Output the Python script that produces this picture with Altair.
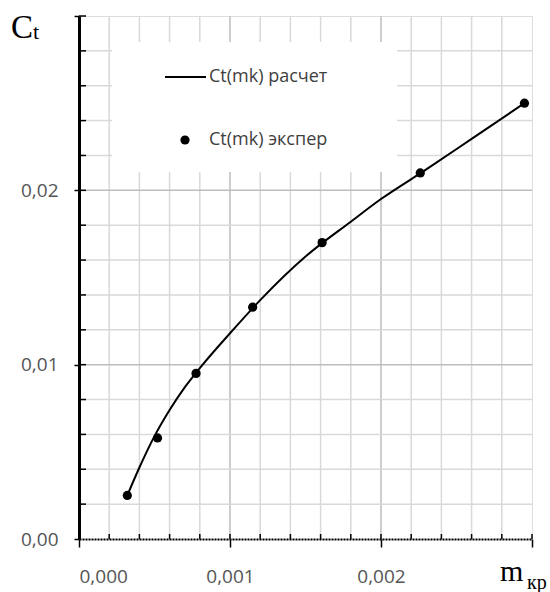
import altair as alt
import pandas as pd

# experimental points
mk_exp = [0.00032, 0.00052, 0.000775, 0.00115, 0.00161, 0.00226, 0.00295]
ct_exp = [0.0025, 0.0058, 0.0095, 0.0133, 0.0170, 0.0210, 0.0250]

# calculated curve
mk_calc = [0.00032, 0.0004, 0.0005, 0.0006, 0.0007, 0.0008, 0.001, 0.0012,
           0.0015, 0.0018, 0.002, 0.0023, 0.0026, 0.00295]
ct_calc = [0.0025, 0.0041, 0.0059, 0.0074, 0.0087, 0.0098, 0.0118, 0.0137,
           0.0162, 0.0182, 0.0195, 0.0212, 0.02295, 0.0250]

# grid / tick positions
x_minor = [0.0002, 0.0004, 0.0006, 0.0008, 0.0012, 0.0014, 0.0016, 0.0018,
           0.0022, 0.0024, 0.0026, 0.0028]
x_major = [0.001, 0.002]
x_ticks_in = [0.0002, 0.0004, 0.0006, 0.0008, 0.001, 0.0012, 0.0014, 0.0016,
              0.0018, 0.002, 0.0022, 0.0024, 0.0026, 0.0028, 0.003]
y_minor = [0.002, 0.004, 0.006, 0.008, 0.012, 0.014, 0.016, 0.018,
           0.022, 0.024, 0.026, 0.028]
y_major = [0.01, 0.02]
y_ticks_in = [0.002, 0.004, 0.006, 0.008, 0.01, 0.012, 0.014, 0.016, 0.018,
              0.02, 0.022, 0.024, 0.026, 0.028, 0.03]

x_labels = [0.0, 0.001, 0.002, 0.003]
y_labels = [0.0, 0.01, 0.02, 0.03]

legend_names = ["Ct(mk) расчет", "Ct(mk) экспер"]

W, H = 453, 523

xscale = alt.Scale(domain=[0, 0.003], nice=False, zero=False)
yscale = alt.Scale(domain=[0, 0.03], nice=False, zero=False)

xaxis = alt.Axis(
    values=x_labels, grid=False, title="",
    labelExpr="datum.value > 0.0029 ? '' : replace(format(datum.value, '.3f'), '.', ',')",
    tickSize=8, tickColor="#000", tickWidth=1.5,
    domainColor="#000", domainWidth=2, domainDash=[2, 1],
    labelFont="Open Sans", labelFontSize=19, labelColor="#555555",
    labelPadding=20, zindex=1,
)
yaxis = alt.Axis(
    values=y_labels, grid=False, title="",
    labelExpr="datum.value > 0.029 ? '' : replace(format(datum.value, '.2f'), '.', ',')",
    tickSize=5, tickColor="#000", tickWidth=1.5,
    domainColor="#000", domainWidth=3,
    labelFont="Open Sans", labelFontSize=19, labelColor="#555555",
    labelPadding=16, zindex=1,
)

X = alt.X("x:Q", scale=xscale, axis=xaxis)
Y = alt.Y("y:Q", scale=yscale, axis=yaxis)

one = pd.DataFrame({"a": [0]})

gx_minor = alt.Chart(pd.DataFrame({"x": x_minor})).mark_rule(
    color="#d9d9d9", strokeWidth=1.5).encode(x=X)
gx_major = alt.Chart(pd.DataFrame({"x": x_major})).mark_rule(
    color="#bdbdbd", strokeWidth=1.5).encode(x=X)
gy_minor = alt.Chart(pd.DataFrame({"y": y_minor})).mark_rule(
    color="#d9d9d9", strokeWidth=1.5).encode(y=Y)
gy_major = alt.Chart(pd.DataFrame({"y": y_major})).mark_rule(
    color="#bdbdbd", strokeWidth=1.5).encode(y=Y)

legend_box = alt.Chart(one).mark_rect(fill="white").encode(
    x=alt.value(33), x2=alt.value(318), y=alt.value(26), y2=alt.value(156))

tx_in = alt.Chart(pd.DataFrame({"x": x_ticks_in})).mark_rule(
    color="#000", strokeWidth=1.5).encode(x=X, y=alt.value(H), y2=alt.value(H - 5))
ty_in = alt.Chart(pd.DataFrame({"y": y_ticks_in})).mark_rule(
    color="#000", strokeWidth=1.5).encode(y=Y, x=alt.value(0), x2=alt.value(7))

line = alt.Chart(pd.DataFrame({"x": mk_calc, "y": ct_calc})).mark_line(
    color="#000", strokeWidth=2, interpolate="monotone").encode(x=X, y=Y)
pts = alt.Chart(pd.DataFrame({"x": mk_exp, "y": ct_exp})).mark_point(
    filled=True, color="#000", size=85, opacity=1).encode(x=X, y=Y)

leg_line = alt.Chart(one).mark_rule(color="#000", strokeWidth=2).encode(
    x=alt.value(86), x2=alt.value(127), y=alt.value(61))
leg_pt = alt.Chart(one).mark_point(filled=True, color="#000", size=85, opacity=1).encode(
    x=alt.value(106), y=alt.value(124))
leg_t1 = alt.Chart(one).mark_text(
    align="left", baseline="middle", font="Open Sans", fontSize=18, color="#404040",
    text=legend_names[0]).encode(x=alt.value(130), y=alt.value(61))
leg_t2 = alt.Chart(one).mark_text(
    align="left", baseline="middle", font="Open Sans", fontSize=18, color="#404040",
    text=legend_names[1]).encode(x=alt.value(130), y=alt.value(124))

title_c = alt.Chart(one).mark_text(
    align="left", baseline="alphabetic", font="Liberation Serif", fontSize=33, color="#000",
    text="C").encode(x=alt.value(-68), y=alt.value(22))
title_t = alt.Chart(one).mark_text(
    align="left", baseline="alphabetic", font="Liberation Serif", fontSize=22, color="#000",
    text="t").encode(x=alt.value(-46), y=alt.value(23))
title_m = alt.Chart(one).mark_text(
    align="left", baseline="alphabetic", font="Liberation Serif", fontSize=30, color="#000",
    text="m").encode(x=alt.value(421), y=alt.value(H + 42))
title_kp = alt.Chart(one).mark_text(
    align="left", baseline="alphabetic", font="Liberation Serif", fontSize=20, color="#000",
    text="кр").encode(x=alt.value(448), y=alt.value(H + 50))

chart = alt.layer(
    gx_minor, gx_major, gy_minor, gy_major, legend_box, tx_in, ty_in,
    line, pts, leg_line, leg_pt, leg_t1, leg_t2,
    title_c, title_t, title_m, title_kp,
).properties(
    width=W, height=H,
    autosize=alt.AutoSizeParams(type="none"),
    padding={"left": 79, "top": 16, "right": 18, "bottom": 53},
).configure_view(
    stroke="#9a9a9a", strokeDash=[1, 1], strokeWidth=1
).configure(background="white")

chart.save("out.html", embed_options={"renderer": "svg", "actions": False})
